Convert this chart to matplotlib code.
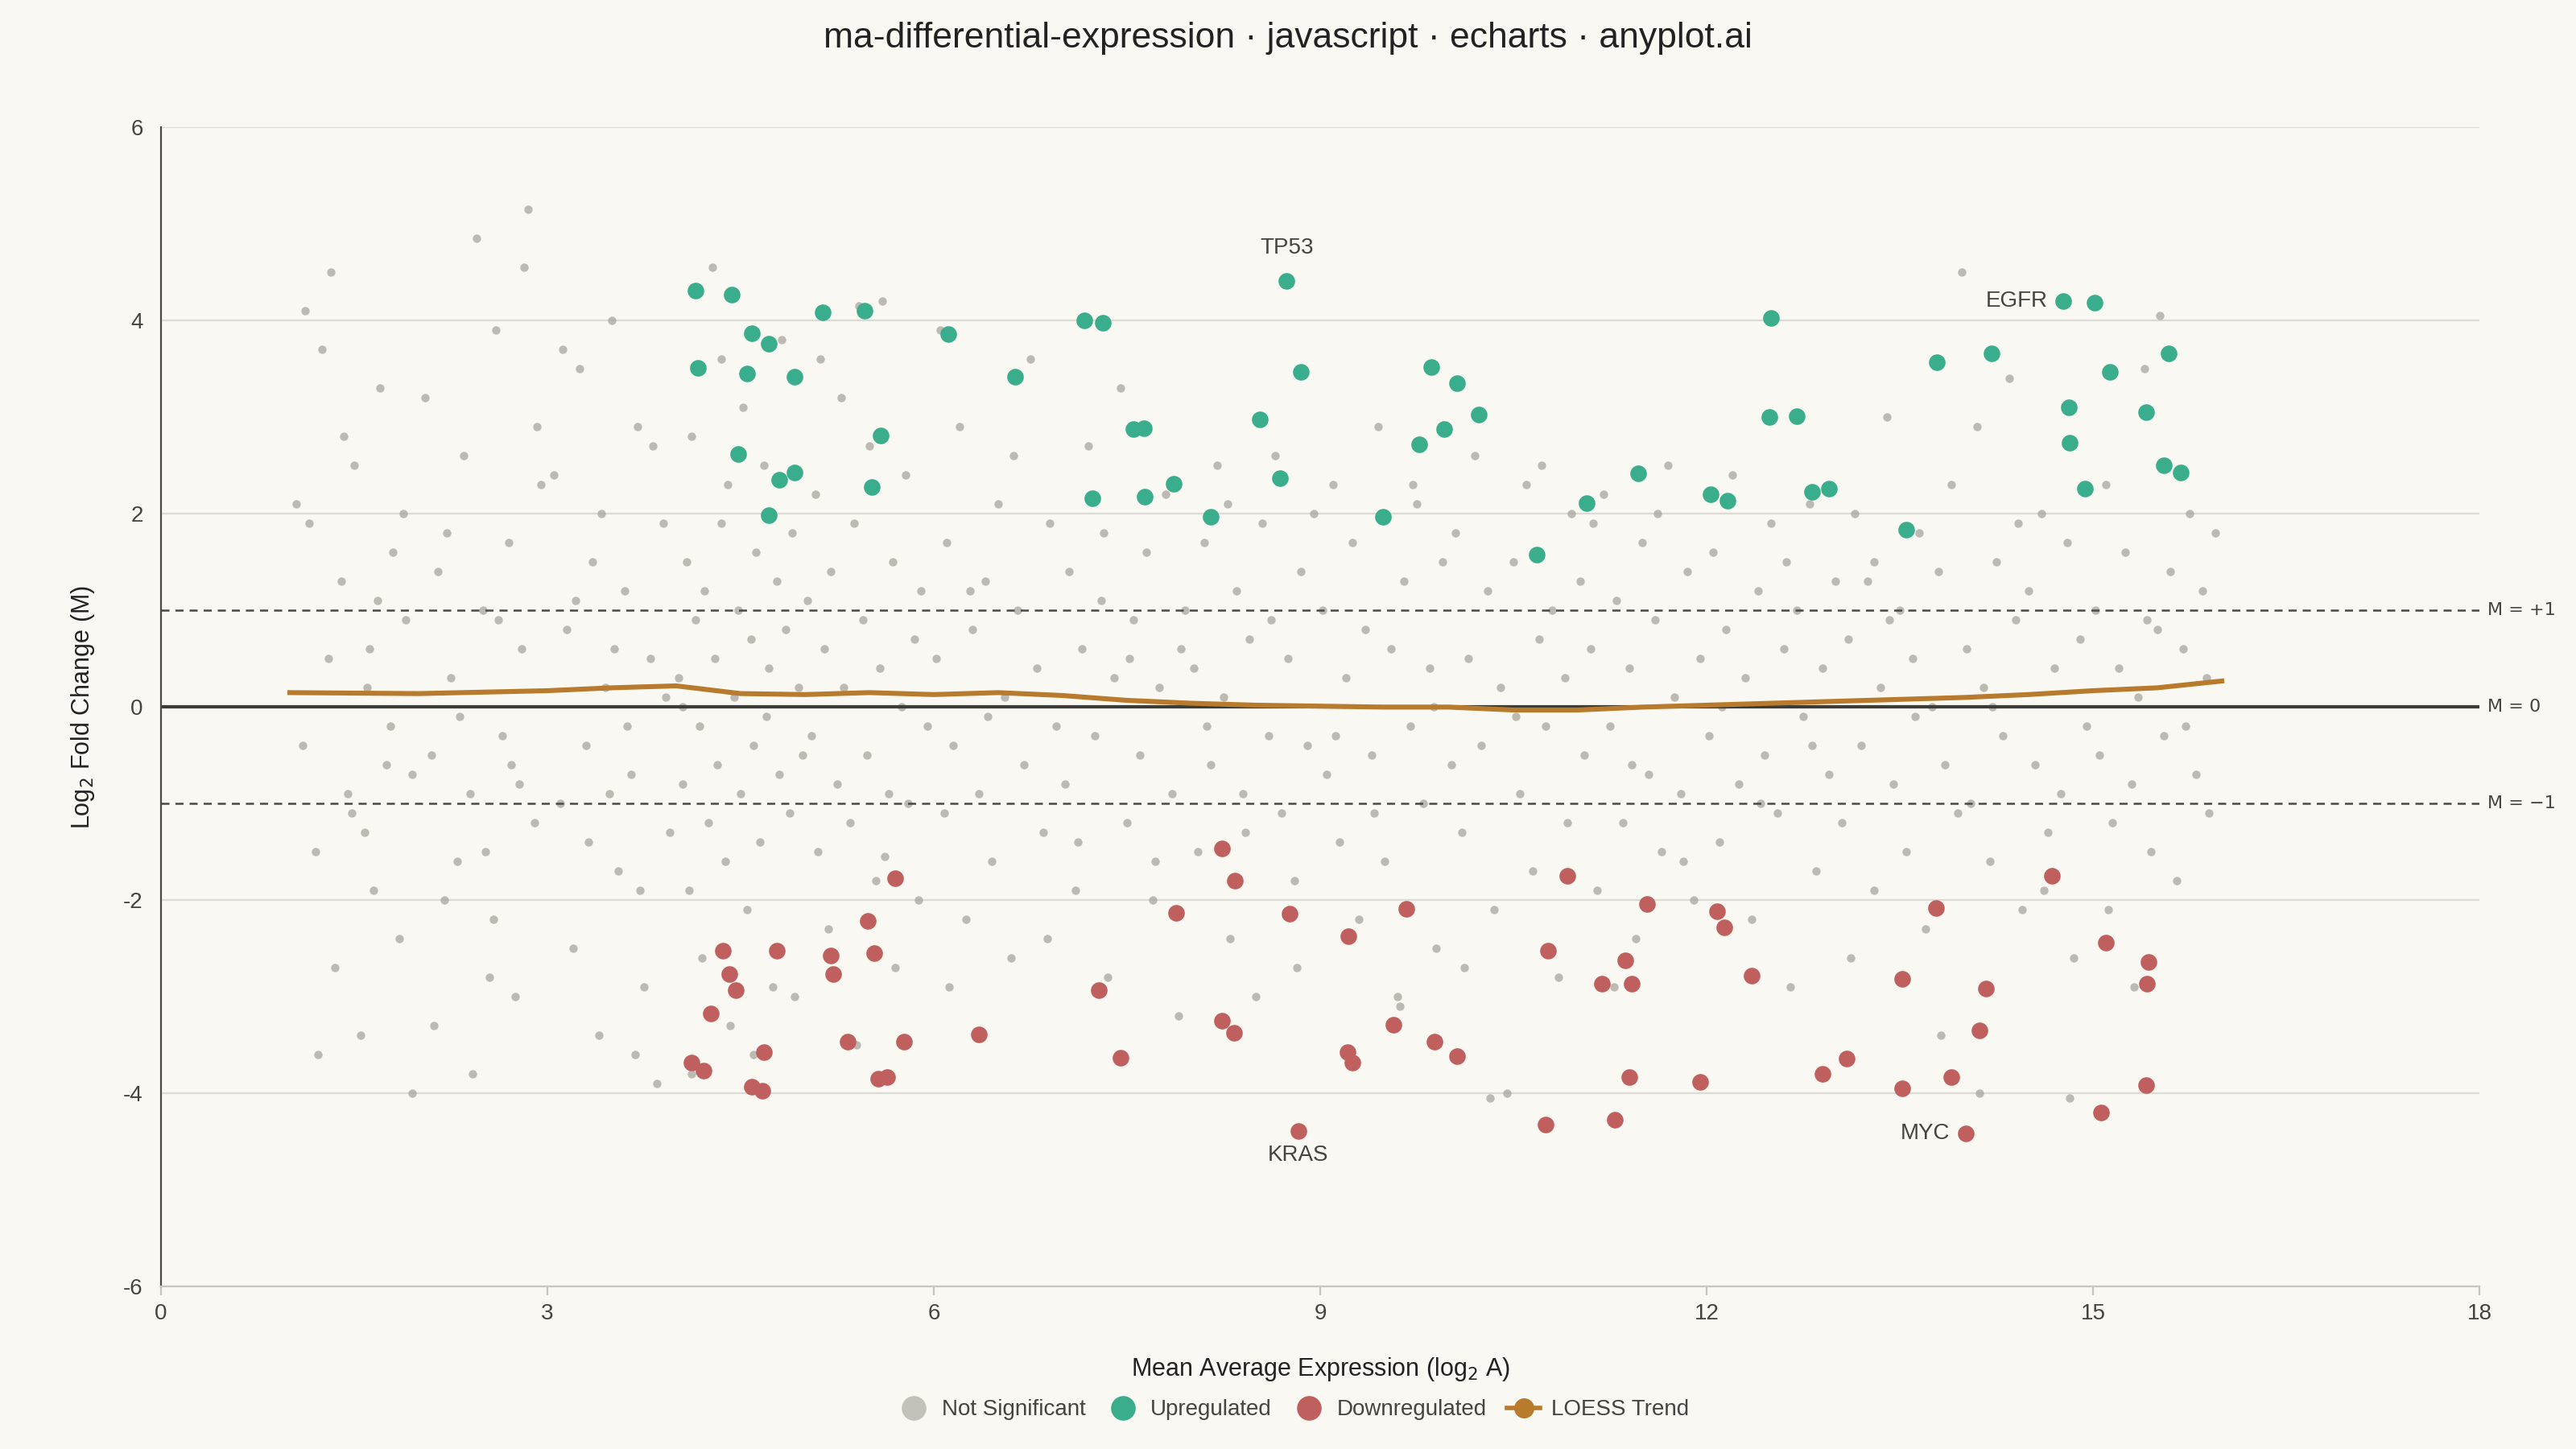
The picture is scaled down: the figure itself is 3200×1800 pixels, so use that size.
import matplotlib.pyplot as plt
from matplotlib.lines import Line2D

plt.rcParams['font.family'] = ['Liberation Sans', 'DejaVu Sans']
plt.rcParams['axes.unicode_minus'] = False

# genes not significant
gray_txt = """
1.05 2.1, 1.1 -0.4, 1.15 1.9, 1.2 -1.5, 1.25 3.7, 1.3 0.5, 1.35 -2.7, 1.4 1.3, 1.45 -0.9, 1.5 2.5, 1.55 -3.4, 1.6 0.2, 1.65 -1.9, 1.7 3.3, 1.75 -0.6, 1.8 1.6, 1.85 -2.4, 1.9 0.9, 1.95 -4.0, 1.12 4.1, 1.32 4.5, 1.48 -1.1, 1.62 0.6, 1.78 -0.2, 1.88 2.0, 1.22 -3.6, 1.58 -1.3, 1.68 1.1, 1.95 -0.7, 1.42 2.8,
2.05 3.2, 2.1 -0.5, 2.15 1.4, 2.2 -2.0, 2.25 0.3, 2.3 -1.6, 2.35 2.6, 2.4 -0.9, 2.45 4.85, 2.5 1.0, 2.55 -2.8, 2.6 3.9, 2.65 -0.3, 2.7 1.7, 2.75 -3.0, 2.8 0.6, 2.85 5.15, 2.9 -1.2, 2.95 2.3, 2.12 -3.3, 2.32 -0.1, 2.52 -1.5, 2.62 0.9, 2.72 -0.6, 2.82 4.55, 2.92 2.9, 2.22 1.8, 2.42 -3.8, 2.58 -2.2, 2.78 -0.8,
3.05 2.4, 3.1 -1.0, 3.15 0.8, 3.2 -2.5, 3.25 3.5, 3.3 -0.4, 3.35 1.5, 3.4 -3.4, 3.45 0.2, 3.5 4.0, 3.55 -1.7, 3.6 1.2, 3.65 -0.7, 3.7 2.9, 3.75 -2.9, 3.8 0.5, 3.85 -3.9, 3.9 1.9, 3.95 -1.3, 3.12 3.7, 3.32 -1.4, 3.42 2.0, 3.52 0.6, 3.62 -0.2, 3.72 -1.9, 3.82 2.7, 3.92 0.1, 3.22 1.1, 3.48 -0.9, 3.68 -3.6,
4.02 0.3, 4.05 -0.8, 4.08 1.5, 4.1 -1.9, 4.12 2.8, 4.15 0.9, 4.18 -0.2, 4.2 -2.6, 4.22 1.2, 4.25 -1.2, 4.28 4.55, 4.3 0.5, 4.32 -0.6, 4.35 1.9, 4.38 -1.6, 4.4 2.3, 4.42 -3.3, 4.45 0.1, 4.48 1.0, 4.5 -0.9, 4.52 3.1, 4.55 -2.1, 4.58 0.7, 4.6 -0.4, 4.62 1.6, 4.65 -1.4, 4.68 2.5, 4.7 -0.1, 4.72 0.4, 4.75 -2.9, 4.78 1.3, 4.8 -0.7, 4.82 3.8, 4.85 0.8, 4.88 -1.1, 4.9 1.8, 4.92 -3.0, 4.95 0.2, 4.98 -0.5, 4.12 -3.8, 4.35 3.6, 4.6 -3.6, 4.05 0.0,
5.02 1.1, 5.05 -0.3, 5.08 2.2, 5.1 -1.5, 5.15 0.6, 5.18 -2.3, 5.2 1.4, 5.25 -0.8, 5.28 3.2, 5.3 0.2, 5.35 -1.2, 5.38 1.9, 5.4 -3.5, 5.45 0.9, 5.48 -0.5, 5.5 2.7, 5.55 -1.8, 5.58 0.4, 5.6 4.2, 5.65 -0.9, 5.68 1.5, 5.7 -2.7, 5.75 0.0, 5.78 2.4, 5.8 -1.0, 5.85 0.7, 5.88 -2.0, 5.9 1.2, 5.95 -0.2, 5.42 4.15, 5.12 3.6, 5.62 -1.55,
6.02 0.5, 6.05 3.9, 6.08 -1.1, 6.1 1.7, 6.15 -0.4, 6.2 2.9, 6.25 -2.2, 6.3 0.8, 6.35 -0.9, 6.4 1.3, 6.45 -1.6, 6.5 2.1, 6.55 0.1, 6.6 -2.6, 6.65 1.0, 6.7 -0.6, 6.75 3.6, 6.8 0.4, 6.85 -1.3, 6.9 1.9, 6.95 -0.2, 6.12 -2.9, 6.42 -0.1, 6.62 2.6, 6.88 -2.4, 6.28 1.2,
7.02 -0.8, 7.05 1.4, 7.1 -1.9, 7.15 0.6, 7.2 2.7, 7.25 -0.3, 7.3 1.1, 7.35 -2.8, 7.4 0.3, 7.45 3.3, 7.5 -1.2, 7.55 0.9, 7.6 -0.5, 7.65 1.6, 7.7 -2.0, 7.75 0.2, 7.8 2.2, 7.85 -0.9, 7.9 -3.2, 7.95 1.0, 7.12 -1.4, 7.32 1.8, 7.52 0.5, 7.72 -1.6, 7.92 0.6,
8.02 0.4, 8.05 -1.5, 8.1 1.7, 8.15 -0.6, 8.2 2.5, 8.25 0.1, 8.3 -2.4, 8.35 1.2, 8.4 -0.9, 8.45 0.7, 8.5 -3.0, 8.55 1.9, 8.6 -0.3, 8.65 2.6, 8.7 -1.1, 8.75 0.5, 8.8 -1.8, 8.85 1.4, 8.9 -0.4, 8.95 2.0, 8.12 -0.2, 8.42 -1.3, 8.62 0.9, 8.82 -2.7, 8.28 2.1,
9.02 1.0, 9.05 -0.7, 9.1 2.3, 9.15 -1.4, 9.2 0.3, 9.25 1.7, 9.3 -2.2, 9.35 0.8, 9.4 -0.5, 9.45 2.9, 9.5 -1.6, 9.55 0.6, 9.6 -3.0, 9.65 1.3, 9.7 -0.2, 9.75 2.1, 9.8 -1.0, 9.85 0.4, 9.9 -2.5, 9.95 1.5, 9.12 -0.3, 9.42 -1.1, 9.62 -3.1, 9.72 2.3, 9.88 0.0,
10.02 -0.6, 10.05 1.8, 10.1 -1.3, 10.15 0.5, 10.2 2.6, 10.25 -0.4, 10.3 1.2, 10.35 -2.1, 10.4 0.2, 10.45 -4.0, 10.5 1.5, 10.55 -0.9, 10.6 2.3, 10.65 -1.7, 10.7 0.7, 10.75 -0.2, 10.8 1.0, 10.85 -2.8, 10.9 0.3, 10.95 2.0, 10.12 -2.7, 10.32 -4.05, 10.52 -0.1, 10.72 2.5, 10.92 -1.2,
11.02 1.3, 11.05 -0.5, 11.1 0.6, 11.15 -1.9, 11.2 2.2, 11.25 -0.2, 11.3 1.1, 11.35 -1.2, 11.4 0.4, 11.45 -2.4, 11.5 1.7, 11.55 -0.7, 11.6 0.9, 11.65 -1.5, 11.7 2.5, 11.75 0.1, 11.8 -0.9, 11.85 1.4, 11.9 -2.0, 11.95 0.5, 11.12 1.9, 11.42 -0.6, 11.62 2.0, 11.82 -1.6, 11.28 -2.9,
12.02 -0.3, 12.05 1.6, 12.1 -1.4, 12.15 0.8, 12.2 2.4, 12.25 -0.8, 12.3 0.3, 12.35 -2.2, 12.4 1.2, 12.45 -0.5, 12.5 1.9, 12.55 -1.1, 12.6 0.6, 12.65 -2.9, 12.7 1.0, 12.75 -0.1, 12.8 2.1, 12.85 -1.7, 12.9 0.4, 12.95 -0.7, 12.12 0.0, 12.42 -1.0, 12.62 1.5, 12.82 -0.4, 13.0 1.3,
13.05 -1.2, 13.1 0.7, 13.15 2.0, 13.2 -0.4, 13.25 1.3, 13.3 -1.9, 13.35 0.2, 13.4 3.0, 13.45 -0.8, 13.5 1.0, 13.55 -1.5, 13.6 0.5, 13.65 1.8, 13.7 -2.3, 13.75 0.0, 13.8 1.4, 13.85 -0.6, 13.9 2.3, 13.95 -1.1, 13.12 -2.6, 13.42 0.9, 13.62 -0.1, 13.82 -3.4, 13.98 4.5, 13.3 1.5,
14.02 0.6, 14.05 -1.0, 14.1 2.9, 14.15 0.2, 14.2 -1.6, 14.25 1.5, 14.3 -0.3, 14.35 3.4, 14.4 0.9, 14.45 -2.1, 14.5 1.2, 14.55 -0.6, 14.6 2.0, 14.65 -1.3, 14.7 0.4, 14.75 -0.9, 14.8 1.7, 14.85 -2.6, 14.9 0.7, 14.95 -0.2, 14.12 -4.0, 14.42 1.9, 14.62 -1.9, 14.82 -4.05, 14.22 0.0,
15.02 1.0, 15.05 -0.5, 15.1 2.3, 15.15 -1.2, 15.2 0.4, 15.25 1.6, 15.3 -0.8, 15.35 0.1, 15.4 3.5, 15.45 -1.5, 15.5 0.8, 15.55 -0.3, 15.6 1.4, 15.65 -1.8, 15.7 0.6, 15.75 2.0, 15.8 -0.7, 15.85 1.2, 15.9 -1.1, 15.95 1.8, 15.12 -2.1, 15.32 -2.9, 15.52 4.05, 15.72 -0.2, 15.88 0.3, 15.42 0.9
"""
gray_pairs = [p.split() for p in gray_txt.replace("\n", " ").split(",") if p.strip()]
gray_a = [float(p[0]) for p in gray_pairs]
gray_m = [float(p[1]) for p in gray_pairs]

up_a = [4.15, 4.43, 4.17, 4.59, 4.72, 4.55, 4.92, 5.14, 5.46, 4.48, 4.80, 4.92, 4.72, 5.59, 5.52,
        6.11, 6.63, 7.17, 7.31, 7.23, 7.55, 7.63, 7.64, 7.86, 8.15, 8.53, 8.69, 8.74, 8.85, 9.49,
        9.77, 9.86, 9.96, 10.06, 10.23, 10.68, 11.07, 11.47, 12.03, 12.16, 12.50, 12.49, 12.70, 12.82,
        12.95, 13.55, 13.79, 14.21, 14.77, 15.01, 14.81, 14.82, 14.94, 15.13, 15.41, 15.59, 15.55, 15.68]
up_m = [4.31, 4.27, 3.51, 3.87, 3.76, 3.45, 3.42, 4.09, 4.10, 2.62, 2.35, 2.43, 1.99, 2.81, 2.28,
        3.86, 3.42, 4.00, 3.98, 2.16, 2.88, 2.89, 2.18, 2.31, 1.97, 2.98, 2.37, 4.41, 3.47, 1.97,
        2.72, 3.52, 2.88, 3.35, 3.03, 1.58, 2.11, 2.42, 2.20, 2.14, 4.03, 3.00, 3.01, 2.23,
        2.26, 1.84, 3.57, 3.66, 4.20, 4.19, 3.10, 2.74, 2.26, 3.47, 3.05, 3.66, 2.50, 2.43]

down_a = [5.70, 4.36, 4.41, 4.46, 4.27, 4.78, 5.20, 5.22, 5.54, 5.49, 4.12, 4.21, 4.68, 4.59, 4.67,
          5.33, 5.77, 5.57, 5.64, 6.35, 7.28, 7.45, 7.88, 8.24, 8.34, 8.76, 8.24, 8.33, 8.83, 9.22,
          9.21, 9.25, 9.67, 9.57, 9.89, 10.06, 10.77, 10.92, 10.75, 11.19, 11.37, 11.42, 11.29, 11.40,
          11.54, 11.95, 12.08, 12.14, 12.35, 12.90, 13.09, 13.52, 13.52, 13.78, 13.90, 14.01, 14.17,
          14.12, 14.68, 15.10, 15.43, 15.42, 15.41, 15.06]
down_m = [-1.77, -2.52, -2.76, -2.93, -3.17, -2.52, -2.57, -2.76, -2.55, -2.21, -3.68, -3.76, -3.57, -3.93, -3.97,
          -3.46, -3.46, -3.85, -3.83, -3.39, -2.93, -3.63, -2.13, -1.46, -1.80, -2.14, -3.25, -3.37, -4.39, -2.37,
          -3.57, -3.68, -2.09, -3.29, -3.46, -3.61, -2.52, -1.75, -4.32, -2.86, -2.62, -2.86, -4.27, -3.83,
          -2.04, -3.88, -2.11, -2.28, -2.78, -3.80, -3.64, -2.81, -3.95, -2.08, -3.83, -4.41, -2.91,
          -3.35, -1.75, -2.44, -2.64, -2.86, -3.91, -4.20]

loess_a = [1, 2, 3, 3.5, 4, 4.5, 5, 5.5, 6, 6.5, 7, 7.5, 8, 8.5, 9, 9.5, 10, 10.5, 11, 11.5,
           12, 12.5, 13, 13.5, 14, 14.5, 15, 15.5, 16]
loess_m = [0.15, 0.14, 0.17, 0.2, 0.22, 0.14, 0.13, 0.15, 0.13, 0.15, 0.12, 0.07, 0.04, 0.02, 0.01,
           0.0, 0.0, -0.03, -0.03, 0.0, 0.02, 0.04, 0.06, 0.08, 0.1, 0.13, 0.17, 0.2, 0.27]

labels = {"TP53": (8.74, 4.41), "EGFR": (14.77, 4.20), "KRAS": (8.83, -4.39), "MYC": (14.01, -4.41)}

bg = "#faf8f2"
c_gray = "#a9a59e"
c_up = "#3aae8c"
c_down = "#c0605e"
c_loess = "#b87a2c"
txt = "#444440"

fig = plt.figure(figsize=(16, 9), dpi=200, facecolor=bg)
ax = fig.add_axes([0.0625, 0.112, 0.9, 0.8])
ax.set_facecolor(bg)

ax.scatter(gray_a, gray_m, s=14, color=c_gray, alpha=0.75, lw=0, zorder=2)
ax.scatter(up_a, up_m, s=55, color=c_up, lw=0, zorder=3)
ax.scatter(down_a, down_m, s=55, color=c_down, lw=0, zorder=3)
ax.plot(loess_a, loess_m, color=c_loess, lw=2.2, zorder=4)

ax.axhline(0, color="#3c3c38", lw=1.5, zorder=2.5)
ax.axhline(1, color="#4a4a44", lw=0.9, ls=(0, (4, 3)), zorder=2.5)
ax.axhline(-1, color="#4a4a44", lw=0.9, ls=(0, (4, 3)), zorder=2.5)
for yv, t in [(1, "M = +1"), (0, "M = 0"), (-1, "M = \u22121")]:
    ax.text(18.06, yv, t, fontsize=8, color=txt, va="center", family=["DejaVu Sans"])

for name, (x, y) in labels.items():
    if name == "TP53":
        ax.annotate(name, (x, y), xytext=(0, 10), textcoords="offset points", ha="center", va="bottom", fontsize=10, color=txt)
    elif name == "KRAS":
        ax.annotate(name, (x, y), xytext=(0, -6), textcoords="offset points", ha="center", va="top", fontsize=10, color=txt)
    else:
        ax.annotate(name, (x, y), xytext=(-7, 0), textcoords="offset points", ha="right", va="center", fontsize=10, color=txt)

ax.set_xlim(0, 18)
ax.set_ylim(-6, 6)
ax.set_xticks(range(0, 19, 3))
ax.set_yticks(range(-6, 7, 2))
ax.grid(axis="y", color="#dcdad4", lw=0.8, zorder=0)
ax.set_axisbelow(True)
for s in ["top", "right"]:
    ax.spines[s].set_visible(False)
ax.spines["bottom"].set_color("#c8c6c0")
ax.spines["left"].set_color("#4a4a44")
ax.tick_params(axis="y", length=0, labelsize=10, colors=txt, pad=8)
ax.tick_params(axis="x", length=4, color="#c8c6c0", labelsize=10, labelcolor=txt)
ax.set_xlabel("Mean Average Expression (log$_2$ A)", fontsize=11, color="#222222", labelpad=14)
ax.set_ylabel("Log$_2$ Fold Change (M)", fontsize=11, color="#222222", labelpad=12)

fig.suptitle("ma-differential-expression \u00b7 javascript \u00b7 echarts \u00b7 anyplot.ai", y=0.985, fontsize=16, color="#222222")

handles = [
    Line2D([], [], ls="", marker="o", ms=10, color="#c4c1ba"),
    Line2D([], [], ls="", marker="o", ms=10, color=c_up),
    Line2D([], [], ls="", marker="o", ms=10, color=c_down),
    Line2D([], [], color=c_loess, lw=2, marker="o", ms=8),
]
fig.legend(handles, ["Not Significant", "Upregulated", "Downregulated", "LOESS Trend"],
           loc="center", bbox_to_anchor=(0.502, 0.027), ncol=4, frameon=False, fontsize=10,
           labelcolor=txt, handletextpad=0.5, columnspacing=0.9, handlelength=1.5)

fig.savefig("out.png", dpi=200, facecolor=bg)
